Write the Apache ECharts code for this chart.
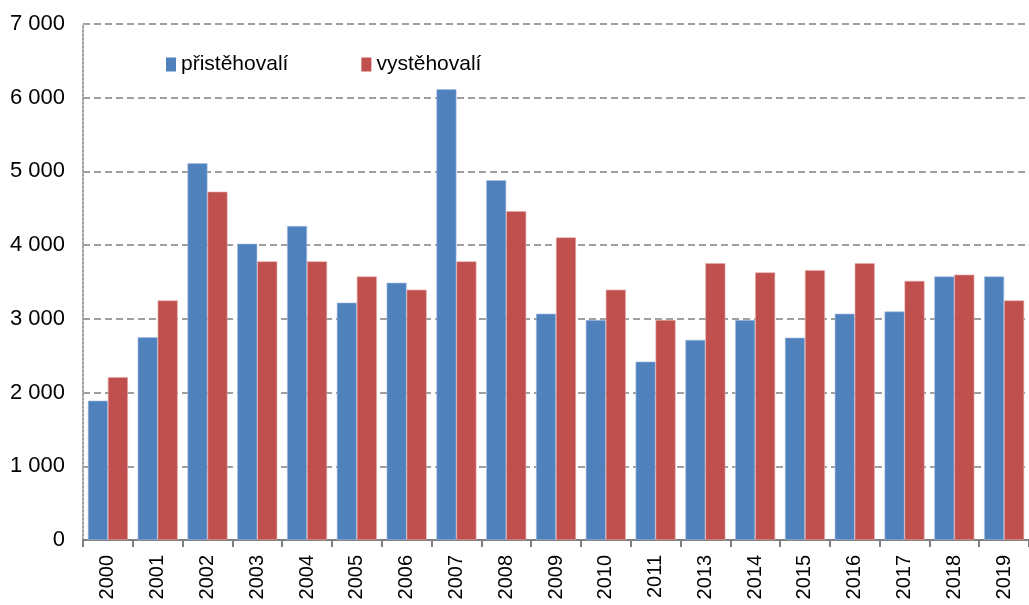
<!DOCTYPE html>
<html><head><meta charset="utf-8">
<script src="https://cdn.jsdelivr.net/npm/echarts@6/dist/echarts.min.js"></script>
<style>html,body{margin:0;padding:0;background:#fff}#c{width:1029px;height:605px}</style>
</head><body><div id="c"></div>
<script>
const categories = ['2000','2001','2002','2003','2004','2005','2006','2007','2008','2009','2010','2011','2013','2014','2015','2016','2017','2018','2019'];
const immigrants = [1890,2750,5110,4020,4260,3220,3490,6115,4880,3070,2985,2420,2715,2985,2745,3070,3100,3575,3575];
const emigrants = [2210,3250,4725,3780,3780,3575,3395,3780,4460,4105,3395,2985,3755,3630,3660,3755,3515,3600,3250];
const yTicks = {min:0, max:7000, interval:1000};
const seriesNames = ['přistěhovalí','vystěhovalí'];

const regular = '"Liberation Sans", Arial, sans-serif';
const chart = echarts.init(document.getElementById('c'));
const fmt = v => String(v).replace(/\B(?=(\d{3})+(?!\d))/g, ' ');
chart.setOption({
  animation:false,
  textStyle:{fontFamily:regular},
  legend:{
    left:166, top:54, padding:0, itemWidth:10, itemHeight:14, itemGap:73, icon:'rect',
    itemStyle:{borderWidth:0},
    textStyle:{fontSize:21, color:'#000', fontFamily:regular},
    data:seriesNames
  },
  grid:{left:83, top:24, width:950, bottom:65, containLabel:false},
  xAxis:{
    type:'category', data:categories,
    axisLine:{lineStyle:{color:'#808080', width:2}},
    axisTick:{show:true, length:7, lineStyle:{color:'#808080', width:2}},
    axisLabel:{rotate:90, fontSize:20, color:'#000', margin:15, fontFamily:regular}
  },
  yAxis:{
    type:'value', min:yTicks.min, max:yTicks.max, interval:yTicks.interval,
    axisLine:{show:true, lineStyle:{color:'#a0a0a0', width:2, type:'dotted'}},
    axisTick:{show:false},
    splitLine:{lineStyle:{color:'#808080', width:1.5, type:[7,4]}},
    axisLabel:{fontSize:22, color:'#000', margin:18, formatter:fmt, fontFamily:regular}
  },
  series:[
    {name:seriesNames[0], type:'bar', data:immigrants, barWidth:20, barGap:'0%',
     itemStyle:{color:'#4F81BD', borderColor:'#a9c0e0', borderWidth:0.6}},
    {name:seriesNames[1], type:'bar', data:emigrants, barWidth:20,
     itemStyle:{color:'#C0504D', borderColor:'#e6a9a7', borderWidth:0.6}}
  ]
});
</script></body></html>
